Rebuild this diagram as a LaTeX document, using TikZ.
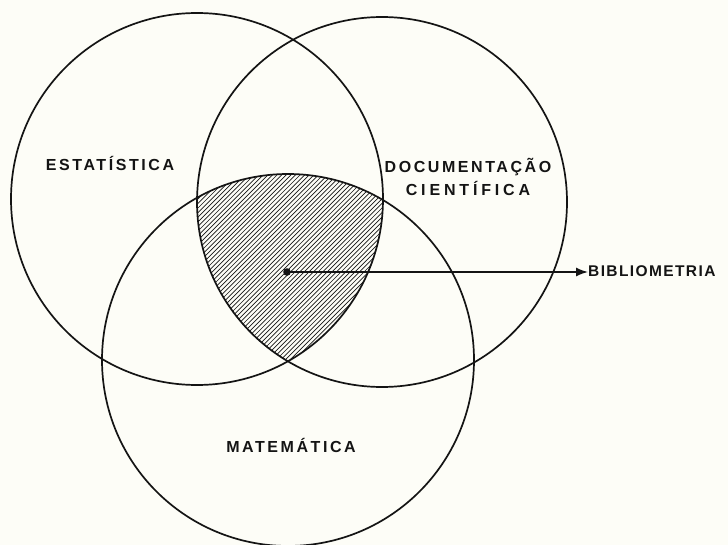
\documentclass[tikz,border=0pt]{standalone}
\usepackage{fontspec}
\newfontfamily\lblfont[LetterSpace=16]{Liberation Sans}
\newfontfamily\lblwide[LetterSpace=24]{Liberation Sans}
\newfontfamily\lblnarrow[LetterSpace=9]{Liberation Sans}
\usetikzlibrary{arrows.meta}
\definecolor{paper}{RGB}{253,253,247}
\definecolor{ink}{RGB}{20,20,20}
\begin{document}
\begin{tikzpicture}[x=1pt,y=-1pt,
  setcircle/.style={draw=ink,line width=1.7pt,circle,inner sep=0pt},
  lbl/.style={font=\lblfont\bfseries\fontsize{16}{19}\selectfont,text=ink,inner sep=0pt,align=center},
  hatch/.style={draw=ink,line width=0.65pt}]
\fill[paper] (0,0) rectangle (728,545);
\useasboundingbox (0,0) rectangle (728,545);
% sets
\node[setcircle,minimum size=372pt] (est) at (197,199) {};
\node[setcircle,minimum size=370pt] (doc) at (382,202) {};
\node[setcircle,minimum size=372pt] (mat) at (288,360) {};
% hatched intersection
\begin{scope}
  \clip (197,199) circle[radius=186];
  \clip (382,202) circle[radius=185];
  \clip (288,360) circle[radius=186];
  \foreach \k in {0,...,110} {
    \draw[hatch] ({-40+\k*4.6},400) -- ({-40+\k*4.6+260},140);
  }
\end{scope}
% labels
\node[lbl] (estl) at (110,163) {ESTATÍSTICA};
\node[lbl] (docl) at (468,177) {DOCUMENTAÇÃO\\[4pt]{\lblwide CIENTÍFICA}};
\node[lbl] (matl) at (291,445) {MATEMÁTICA};
\node[lbl,font=\lblnarrow\bfseries\fontsize{15.5}{19}\selectfont,anchor=west] (bib) at (588,271) {BIBLIOMETRIA};
% pointer
\coordinate (dot) at (287,272);
\fill[ink] (dot) circle[radius=3.8];
\draw[ink,line width=1.5pt,-{Latex[length=12pt,width=9pt]}] (dot) -- (dot -| bib.west);
\end{tikzpicture}
\end{document}
